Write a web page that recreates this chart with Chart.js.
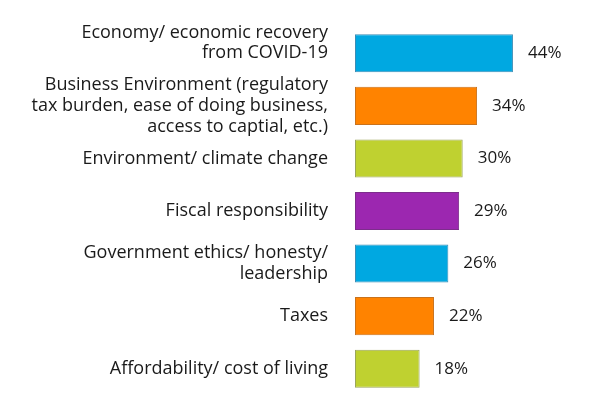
<!DOCTYPE html>
<html>
<head>
<meta charset="utf-8">
<script src="https://cdn.jsdelivr.net/npm/chart.js@4.4.0/dist/chart.umd.min.js"></script>
<style>
  html, body { margin: 0; padding: 0; background: #fff; }
  #wrap { width: 600px; height: 397px; }
</style>
</head>
<body>
<div id="wrap"><canvas id="issuesChart" width="600" height="397"></canvas></div>
<script>
// categorias (rótulos em várias linhas)
const categories = [
    ['Economy/ economic recovery', 'from COVID-19', ''],
    ['Business Environment (regulatory', 'tax burden, ease of doing business,', 'access to captial, etc.)'],
    'Environment/ climate change',
    'Fiscal responsibility',
    ['Government ethics/ honesty/', 'leadership'],
    'Taxes',
    'Affordability/ cost of living'
];
const percentValues = [44, 34, 30, 29, 26, 22, 18];
const barColors = ['#00a8e1', '#ff8300', '#bfd130', '#9c27b0', '#00a8e1', '#ff8300', '#bfd130'];
const barBorders = ['#3b8db5', '#c9721c', '#9aa55a', '#7d2d8c', '#3b8db5', '#c9721c', '#9aa55a'];

// plugin simples para escrever o valor ao lado da barra
const valueLabels = {
    id: 'valueLabels',
    afterDatasetsDraw(chart) {
        const ctx = chart.ctx;
        const meta = chart.getDatasetMeta(0);
        ctx.save();
        ctx.font = '17px "Open Sans"';
        ctx.fillStyle = '#1a1a1a';
        ctx.textAlign = 'left';
        ctx.textBaseline = 'middle';
        meta.data.forEach((bar, i) => {
            ctx.fillText(percentValues[i] + '%', bar.x + 15, bar.y);
        });
        ctx.restore();
    }
};

const ctx = document.getElementById('issuesChart').getContext('2d');
new Chart(ctx, {
    type: 'bar',
    data: {
        labels: categories,
        datasets: [{
            data: percentValues,
            backgroundColor: barColors,
            borderColor: barBorders,
            borderWidth: 1,
            borderSkipped: false,
            barPercentage: 0.724,
            categoryPercentage: 1
        }]
    },
    options: {
        indexAxis: 'y',
        responsive: false,
        animation: false,
        layout: {
            padding: { top: 27, bottom: 2, left: 0, right: 65.5 }
        },
        plugins: {
            legend: { display: false },
            tooltip: { enabled: false }
        },
        scales: {
            x: {
                display: false,
                min: 0,
                max: 50
            },
            y: {
                grid: { display: false, drawTicks: false },
                border: { display: false },
                afterFit(scale) {
                    scale.width = 355;
                    scale.paddingTop = 0;
                    scale.paddingBottom = 0;
                },
                ticks: {
                    autoSkip: false,
                    padding: 27,
                    color: '#1a1a1a',
                    font: { family: '"Open Sans"', size: 18, lineHeight: 1.14 }
                }
            }
        }
    },
    plugins: [valueLabels]
});
</script>
</body>
</html>
